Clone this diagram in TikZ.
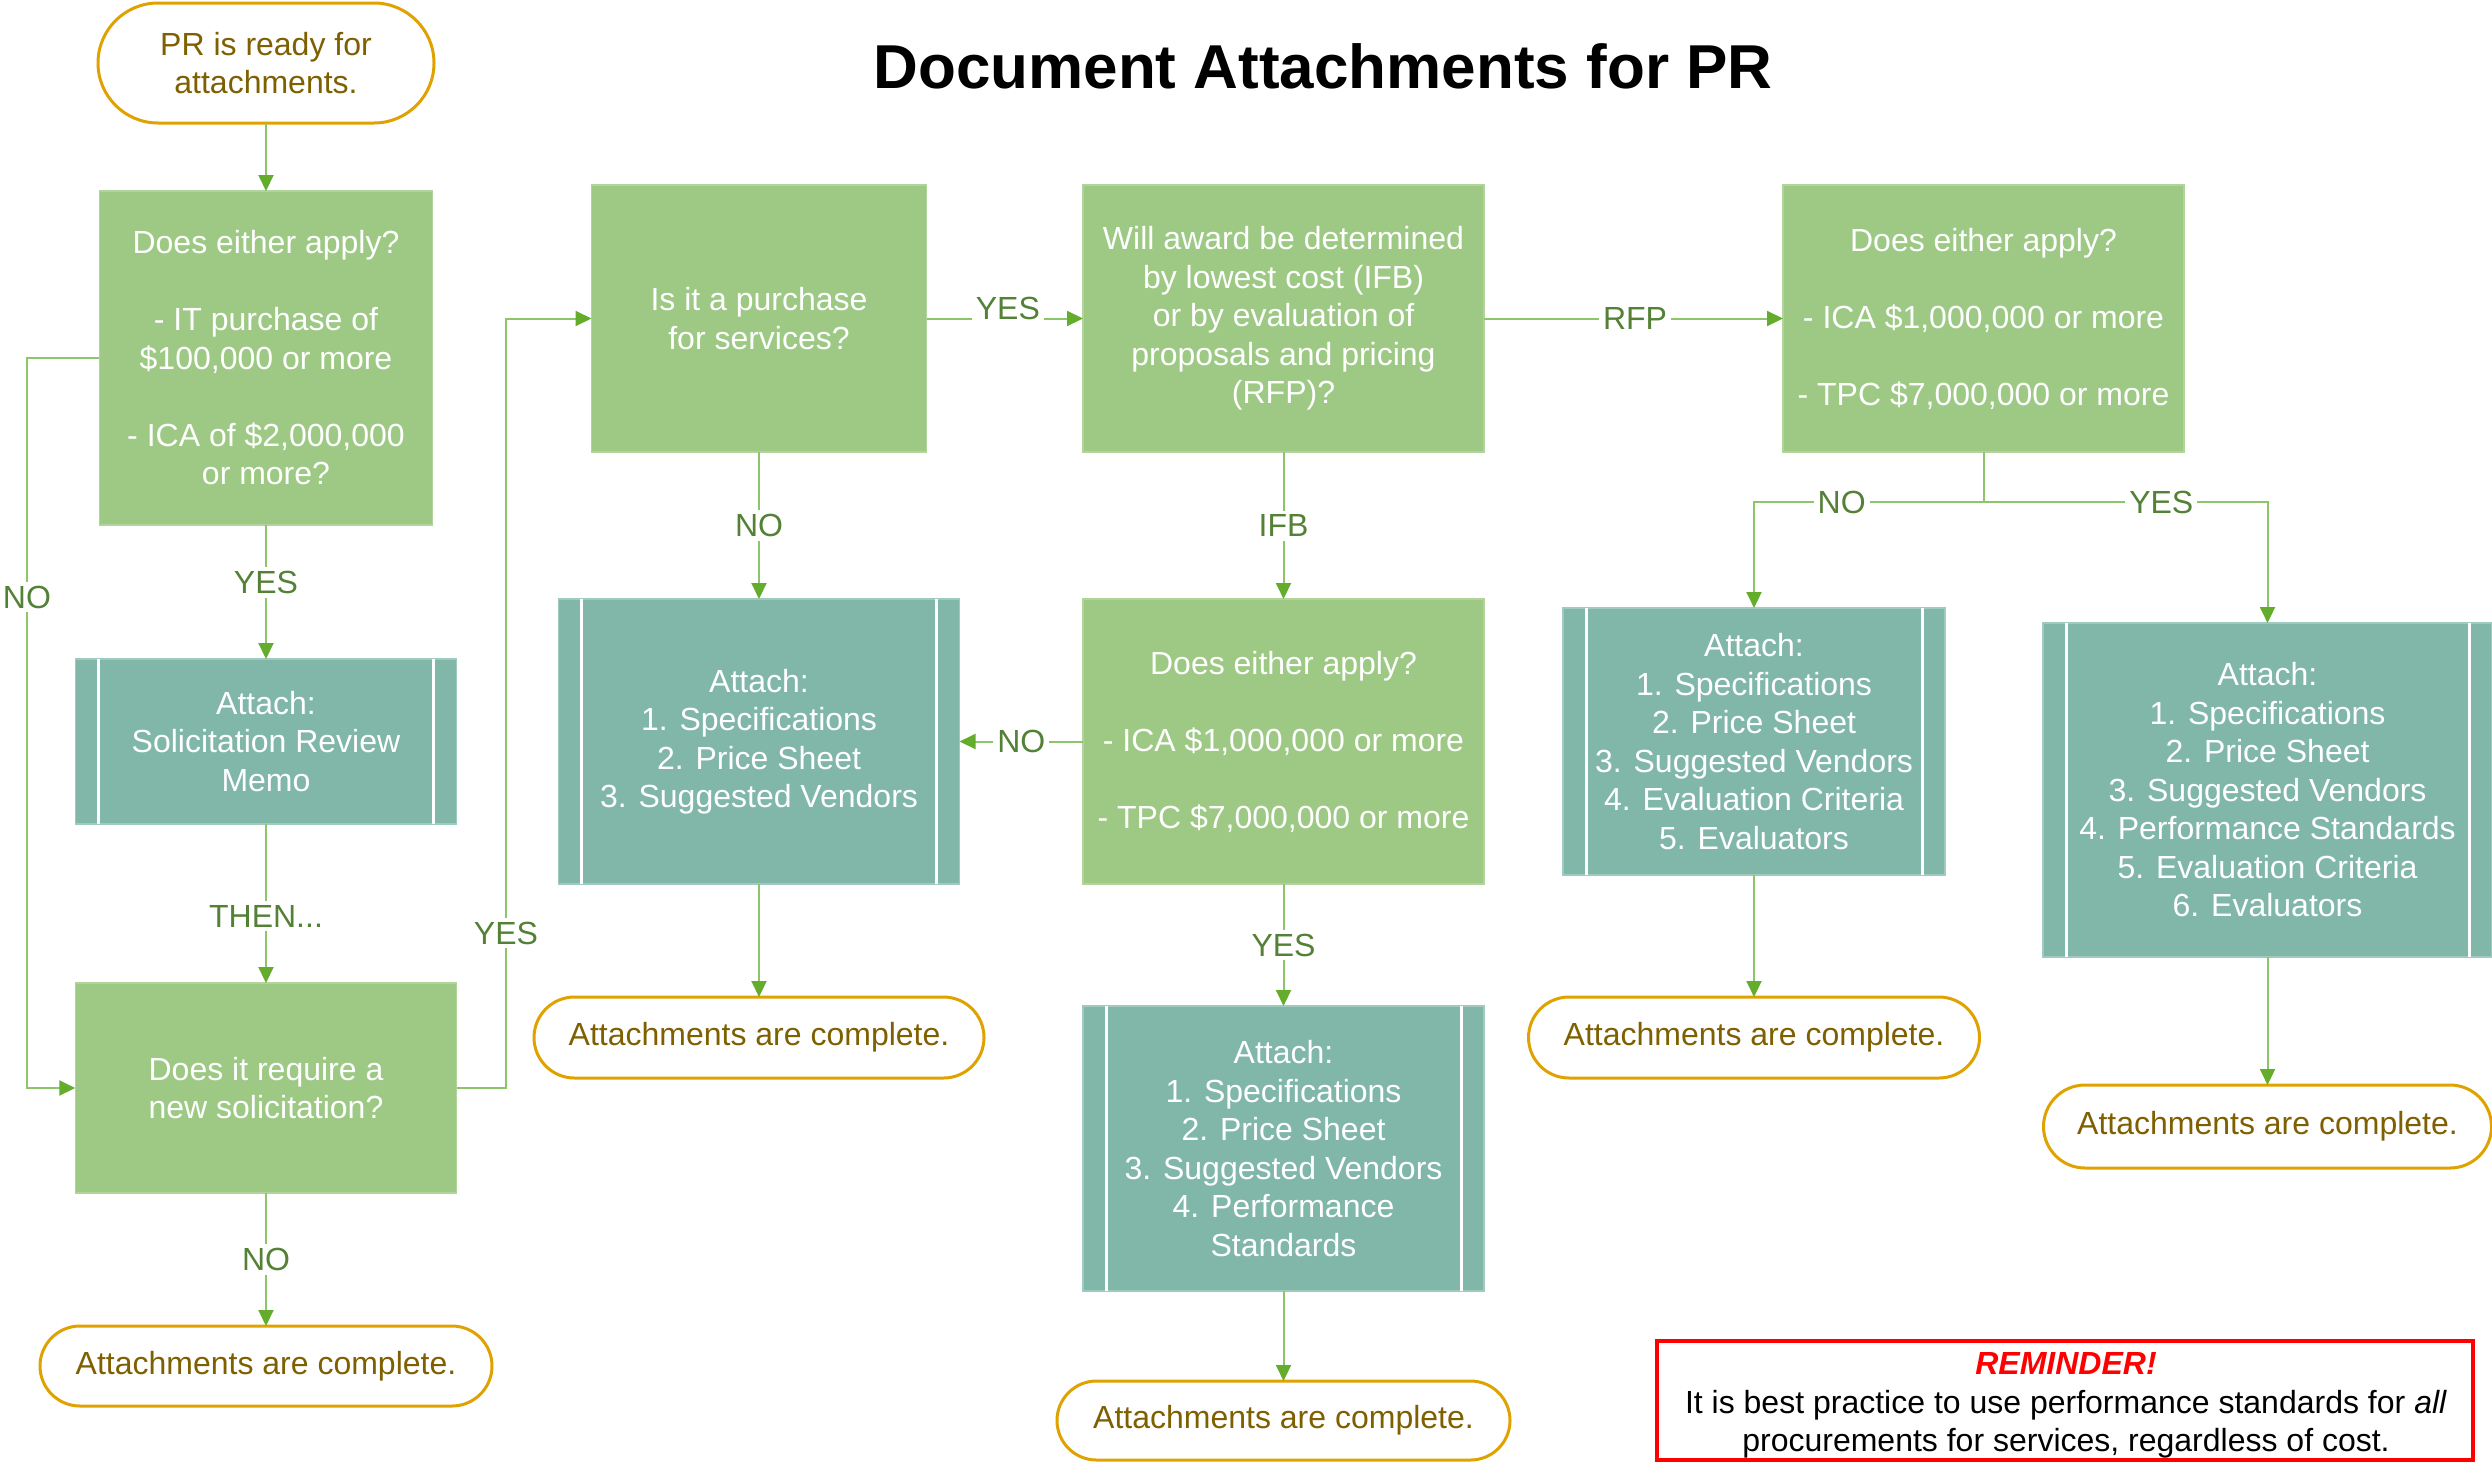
\documentclass[tikz,border=0pt]{standalone}
\usepackage{fontspec}
\setmainfont{Liberation Sans}
\usetikzlibrary{arrows.meta,shapes.misc,calc}
\definecolor{decfill}{HTML}{9DC985}
\definecolor{decline}{HTML}{B0D49C}
\definecolor{attfill}{HTML}{80B7A9}
\definecolor{attline}{HTML}{9FCABE}
\definecolor{termline}{HTML}{DFA200}
\definecolor{termtext}{HTML}{7F6000}
\definecolor{connline}{HTML}{8DC56B}
\definecolor{arrowgreen}{HTML}{64AC2C}
\definecolor{lblgreen}{HTML}{538135}
\newcommand{\procbars}[1]{%
  \draw[white, line width=1.5pt] ($(#1.north west)+(23,0)$) -- ($(#1.south west)+(23,0)$);
  \draw[white, line width=1.5pt] ($(#1.north east)+(-23,0)$) -- ($(#1.south east)+(-23,0)$);}
\begin{document}
\begin{tikzpicture}[x=0.5pt,y=-0.5pt,
  every node/.style={inner sep=0pt, outer sep=0pt, align=center, font=\fontsize{16pt}{19.25pt}\selectfont},
  dec/.style={fill=decfill, draw=decline, line width=0.6pt, text=white},
  att/.style={fill=attfill, draw=attline, line width=0.6pt, text=white},
  term/.style={rounded rectangle, draw=termline, line width=1.5pt, fill=white, text=termtext},
  conn/.style={draw=connline, line width=1pt, -{Triangle[length=8pt,width=7.5pt,color=arrowgreen]}},
  plain/.style={draw=connline, line width=1pt},
  lbl/.style={fill=white, text=lblgreen, inner sep=2pt},
]
\useasboundingbox (0,0) rectangle (2492,1462);

% title
\node[font=\fontsize{31pt}{37pt}\selectfont\bfseries] (title) at (1323,66) {Document Attachments for PR};

% column 1
\node[term, minimum width=168pt, minimum height=60pt] (start) at (266,63) {PR is ready for\\attachments.};
\node[dec, minimum width=166.75pt, minimum height=167pt] (q1) at (266,358)
  {Does either apply?\\[19.25pt]- IT purchase of\\\$100,000 or more\\[19.25pt]- ICA of \$2,000,000\\or more?};
\node[att, minimum width=190.75pt, minimum height=82.5pt] (memo) at (266,741.5) {Attach:\\Solicitation Review\\Memo};
\node[dec, minimum width=190.75pt, minimum height=105pt] (q2) at (266,1088) {Does it require a\\new solicitation?};
\node[term, minimum width=226pt, minimum height=40pt] (end1) at (266,1366) {Attachments are complete.};

% column 2
\node[dec, minimum width=167.5pt, minimum height=133.5pt] (q3) at (759,318.5) {Is it a purchase\\for services?};
\node[att, minimum width=200.5pt, minimum height=142.5pt] (att1) at (759,741.5)
  {Attach:\\1. Specifications\\2. Price Sheet\\3. Suggested Vendors};
\node[term, minimum width=225pt, minimum height=40.5pt] (end2) at (759,1037.5) {Attachments are complete.};

% column 3
\node[dec, minimum width=200.5pt, minimum height=133.5pt] (q4) at (1283.5,318.5)
  {Will award be determined\\by lowest cost (IFB)\\or by evaluation of\\proposals and pricing\\(RFP)?};
\node[dec, minimum width=200.5pt, minimum height=142.5pt] (q5) at (1283.5,741.5)
  {Does either apply?\\[19.25pt]- ICA \$1,000,000 or more\\[19.25pt]- TPC \$7,000,000 or more};
\node[att, minimum width=200.5pt, minimum height=142.5pt] (att3) at (1283.5,1148.5)
  {Attach:\\1. Specifications\\2. Price Sheet\\3. Suggested Vendors\\4. Performance\\Standards};
\node[term, minimum width=226.5pt, minimum height=39.5pt] (end3) at (1283.5,1420.5) {Attachments are complete.};

% column 4
\node[dec, minimum width=200.5pt, minimum height=133.5pt] (q6) at (1983.5,318.5)
  {Does either apply?\\[19.25pt]- ICA \$1,000,000 or more\\[19.25pt]- TPC \$7,000,000 or more};
\node[att, minimum width=191pt, minimum height=133.5pt] (att4) at (1754,741.5)
  {Attach:\\1. Specifications\\2. Price Sheet\\3. Suggested Vendors\\4. Evaluation Criteria\\5. Evaluators};
\node[term, minimum width=225.5pt, minimum height=40.5pt] (end4) at (1754,1037.5) {Attachments are complete.};
\node[att, minimum width=224.5pt, minimum height=167pt] (att5) at (2267.5,790)
  {Attach:\\1. Specifications\\2. Price Sheet\\3. Suggested Vendors\\4. Performance Standards\\5. Evaluation Criteria\\6. Evaluators};
\node[term, minimum width=224pt, minimum height=41.5pt] (end5) at (2267.5,1126.5) {Attachments are complete.};

\procbars{memo}
\procbars{att1}
\procbars{att3}
\procbars{att4}
\procbars{att5}

% reminder
\node[draw=red, line width=2pt, minimum width=408pt, minimum height=59.5pt] (rem) at (2065,1400.5) {};
\node (remtext) at (2066,1405.5)
  {\textcolor{red}{\bfseries\itshape REMINDER!}\\It is best practice to use performance standards for \textit{all}\\procurements for services, regardless of cost.};

% connectors
\draw[conn] (start.south) -- (q1.north);
\draw[conn] (q1.south) -- node[lbl, pos=0.43] (lyes1) {YES} (memo.north);
\draw[conn] (memo.south) -- node[lbl, pos=0.58] (lthen) {THEN...} (q2.north);
\draw[conn] (q2.south) -- node[lbl, pos=0.5] (lno2) {NO} (end1.north);
\draw[conn] (q1.west) -- ++(-72.5,0) coordinate (nl1) |- (q2.west);
\node[lbl] (lno1) at (27,597) {NO};
\draw[conn] (q2.east) -- ++(49.5,0) coordinate (yl1) |- (q3.west);
\node[lbl] (lyes2) at (506,933) {YES};

\draw[conn] (q3.east) -- node[lbl, pos=0.52, yshift=5pt] (lyes3) {YES} (q4.west);
\draw[conn] (q4.east) -- node[lbl, pos=0.505] (lrfp) {RFP} (q6.west);
\draw[conn] (q3.south) -- node[lbl, pos=0.5] (lno3) {NO} (att1.north);
\draw[conn] (q4.south) -- node[lbl, pos=0.5] (lifb) {IFB} (q5.north);
\draw[conn] (q5.west) -- node[lbl, pos=0.5] (lno4) {NO} (att1.east);
\draw[conn] (q5.south) -- node[lbl, pos=0.5] (lyes4) {YES} (att3.north);
\draw[conn] (att1.south) -- (end2.north);
\draw[conn] (att3.south) -- (end3.north);

\draw[plain] (q6.south) -- ++(0,50) coordinate (rj);
\draw[conn] (rj) -| node[lbl, pos=0.309] (lno5) {NO} (att4.north);
\draw[conn] (rj) -| node[lbl, pos=0.313] (lyes5) {YES} (att5.north);
\draw[conn] (att4.south) -- (end4.north);
\draw[conn] (att5.south) -- (end5.north);
\end{tikzpicture}
\end{document}
